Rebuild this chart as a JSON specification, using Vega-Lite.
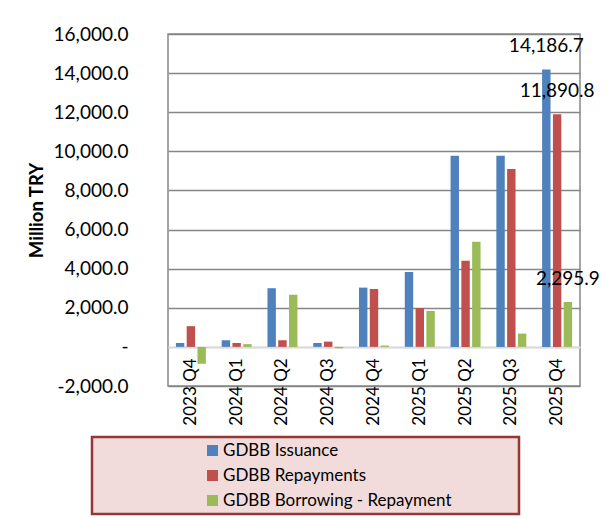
{
  "$schema": "https://vega.github.io/schema/vega-lite/v6.json",
  "width": 412,
  "height": 352,
  "autosize": "none",
  "padding": {"left": 168, "top": 34, "right": 27, "bottom": 132},
  "background": "white",
  "config": {
    "font": "Lato",
    "view": {"stroke": "#868686", "strokeWidth": 1.5}
  },
  "data": {
    "values": [
      {"quarter": "2023 Q4", "series": "GDBB Issuance", "value": 200},
      {"quarter": "2023 Q4", "series": "GDBB Repayments", "value": 1060},
      {"quarter": "2023 Q4", "series": "GDBB Borrowing - Repayment", "value": -860},
      {"quarter": "2024 Q1", "series": "GDBB Issuance", "value": 340},
      {"quarter": "2024 Q1", "series": "GDBB Repayments", "value": 200},
      {"quarter": "2024 Q1", "series": "GDBB Borrowing - Repayment", "value": 140},
      {"quarter": "2024 Q2", "series": "GDBB Issuance", "value": 3000},
      {"quarter": "2024 Q2", "series": "GDBB Repayments", "value": 340},
      {"quarter": "2024 Q2", "series": "GDBB Borrowing - Repayment", "value": 2660},
      {"quarter": "2024 Q3", "series": "GDBB Issuance", "value": 200},
      {"quarter": "2024 Q3", "series": "GDBB Repayments", "value": 270},
      {"quarter": "2024 Q3", "series": "GDBB Borrowing - Repayment", "value": -70},
      {"quarter": "2024 Q4", "series": "GDBB Issuance", "value": 3030},
      {"quarter": "2024 Q4", "series": "GDBB Repayments", "value": 2960},
      {"quarter": "2024 Q4", "series": "GDBB Borrowing - Repayment", "value": 70},
      {"quarter": "2025 Q1", "series": "GDBB Issuance", "value": 3830},
      {"quarter": "2025 Q1", "series": "GDBB Repayments", "value": 1990},
      {"quarter": "2025 Q1", "series": "GDBB Borrowing - Repayment", "value": 1840},
      {"quarter": "2025 Q2", "series": "GDBB Issuance", "value": 9780},
      {"quarter": "2025 Q2", "series": "GDBB Repayments", "value": 4400},
      {"quarter": "2025 Q2", "series": "GDBB Borrowing - Repayment", "value": 5380},
      {"quarter": "2025 Q3", "series": "GDBB Issuance", "value": 9780},
      {"quarter": "2025 Q3", "series": "GDBB Repayments", "value": 9100},
      {"quarter": "2025 Q3", "series": "GDBB Borrowing - Repayment", "value": 680},
      {"quarter": "2025 Q4", "series": "GDBB Issuance", "value": 14186.7},
      {"quarter": "2025 Q4", "series": "GDBB Repayments", "value": 11890.8},
      {"quarter": "2025 Q4", "series": "GDBB Borrowing - Repayment", "value": 2295.9}
    ]
  },
  "encoding": {
    "x": {
      "field": "quarter",
      "type": "nominal",
      "sort": null,
      "scale": {"paddingInner": 0.345, "paddingOuter": 0.1725},
      "axis": {
        "title": null,
        "offset": -39.1,
        "labelAngle": 270,
        "labelAlign": "right",
        "labelBaseline": "middle",
        "labelPadding": 11,
        "labelFontSize": 17,
        "labelColor": "black",
        "ticks": false,
        "domainColor": "#d9d9d9",
        "domainWidth": 2,
        "grid": false
      }
    },
    "xOffset": {
      "field": "series",
      "type": "nominal",
      "sort": ["GDBB Issuance", "GDBB Repayments", "GDBB Borrowing - Repayment"],
      "scale": {"paddingInner": 0.22, "paddingOuter": 0}
    },
    "y": {
      "field": "value",
      "type": "quantitative",
      "scale": {"domain": [-2000, 16000], "nice": false, "zero": false},
      "axis": {
        "title": "Million TRY",
        "titleFontSize": 18.5,
        "titleFontWeight": "bold",
        "titleColor": "black",
        "titleAngle": 270,
        "titleAlign": "center",
        "titleBaseline": "middle",
        "titleX": -132,
        "titleY": 176,
        "values": [-2000, 0, 2000, 4000, 6000, 8000, 10000, 12000, 14000, 16000],
        "labelExpr": "datum.value == 0 ? '-\u00a0\u00a0\u00a0' : replace(format(datum.value, ',.1f'), '\u2212', '-')",
        "labelFontSize": 19,
        "labelColor": "black",
        "labelPadding": 40,
        "ticks": false,
        "domain": false,
        "grid": true,
        "gridColor": {"condition": {"test": "datum.value === 0", "value": "#d9d9d9"}, "value": "#868686"},
        "gridWidth": 1.5
      }
    }
  },
  "layer": [
    {
      "mark": {"type": "bar"},
      "encoding": {
        "color": {
          "field": "series",
          "type": "nominal",
          "sort": ["GDBB Issuance", "GDBB Repayments", "GDBB Borrowing - Repayment"],
          "scale": {
            "domain": ["GDBB Issuance", "GDBB Repayments", "GDBB Borrowing - Repayment"],
            "range": ["#4f81bd", "#c0504d", "#9bbb59"]
          },
          "legend": {
            "orient": "none",
            "legendX": -76,
            "legendY": 403,
            "direction": "vertical",
            "title": "\u00a0",
            "titleOrient": "right",
            "titlePadding": 62,
            "padding": 5,
            "symbolOffset": 107,
            "symbolType": "square",
            "symbolSize": 121,
            "symbolStrokeWidth": 0,
            "labelFontSize": 17,
            "labelColor": "black",
            "labelOffset": 2,
            "labelLimit": 400,
            "rowPadding": 7,
            "fillColor": "#f2dcdb",
            "strokeColor": "#953735",
            "encode": {"legend": {"update": {"strokeWidth": {"value": 2.5}}}}
          }
        }
      }
    },
    {
      "transform": [{"filter": "datum.quarter == '2025 Q4'"}],
      "mark": {"type": "text", "dy": -23, "baseline": "middle", "align": "center", "fontSize": 19, "color": "black"},
      "encoding": {
        "text": {"field": "value", "type": "quantitative", "format": ",.1f"}
      }
    }
  ]
}
